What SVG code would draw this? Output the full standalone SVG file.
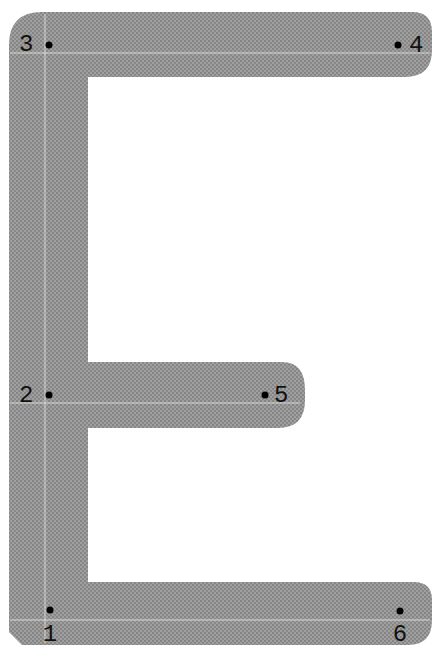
<svg xmlns="http://www.w3.org/2000/svg" width="435" height="649" viewBox="0 0 435 649">
<defs>
<pattern id="tex" width="4" height="4" patternUnits="userSpaceOnUse">
<rect width="4" height="4" fill="#a0a0a0"/>
<rect x="0" y="0" width="2" height="2" fill="#848484"/>
<rect x="2" y="2" width="2" height="2" fill="#888888"/>
</pattern>
</defs>
<style>
.dot{fill:#000}
.lbl{font-family:"Liberation Mono","DejaVu Sans Mono",monospace;font-size:24px;fill:#111}
.mid{text-anchor:middle}
.grid{stroke:#e8e8e8;stroke-width:1;opacity:0.8}
</style>
<g id="letter">
<path d="M9,45 Q9,12 42,12 L412,12 Q432,12 432,32 L432,50 Q432,77 405,77 L88,77 L88,362 L282,362 Q305,362 305,390 L305,400 Q305,428 278,428 L88,428 L88,582 L414,582 Q432,582 432,600 L432,620 Q432,645 408,645 L22,645 L9,632 Z" fill="url(#tex)"/>
</g>
<g id="gridlines">
<line class="grid" x1="45" y1="14" x2="45" y2="643"/>
<line class="grid" x1="10" y1="53" x2="430" y2="53"/>
<line class="grid" x1="10" y1="403" x2="300" y2="403"/>
<line class="grid" x1="10" y1="620" x2="430" y2="620"/>
</g>
<g id="p3"><circle class="dot" cx="49" cy="45" r="3.5"/><text class="lbl" x="19" y="51">3</text></g>
<g id="p4"><circle class="dot" cx="398" cy="45" r="3.5"/><text class="lbl" x="409" y="52">4</text></g>
<g id="p2"><circle class="dot" cx="49" cy="395" r="3.5"/><text class="lbl" x="19" y="402">2</text></g>
<g id="p5"><circle class="dot" cx="265" cy="395" r="3.5"/><text class="lbl" x="274" y="402">5</text></g>
<g id="p1"><circle class="dot" cx="50" cy="610" r="3.5"/><text class="lbl mid" x="50" y="641">1</text></g>
<g id="p6"><circle class="dot" cx="400" cy="611" r="3.5"/><text class="lbl mid" x="400" y="641">6</text></g>
</svg>
